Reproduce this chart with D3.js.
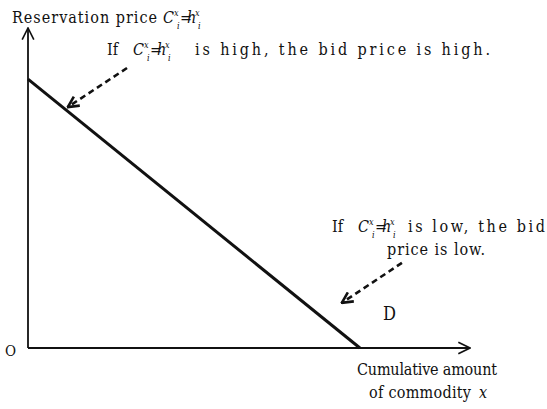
<!DOCTYPE html>
<html>
<head>
<meta charset="utf-8">
<script src="https://cdn.jsdelivr.net/npm/d3@7"></script>
<style>
  body { margin: 0; background: #fff; }
  text { font-family: "DejaVu Serif Condensed", "DejaVu Serif", serif; fill: #111; }
</style>
</head>
<body>
<div id="plot_area"></div>
<script>
// set svg size
const w = 547;
const h = 409;

// demand curve D: [quantity, price]
const demand = [[0, 84], [75.1, 0]];
// dashed pointer arrows: [start, end] in data units
const arrowHigh = [[22.4, 87.5], [9.0, 75.3]];
const arrowLow = [[84.6, 26.6], [71.0, 14.1]];
// axis ends
const xMax = 100;
const yMax = 100;

const xScale = d3.scaleLinear()
                 .domain([0, xMax])
                 .range([28, 470]);

const yScale = d3.scaleLinear()
                 .domain([0, yMax])
                 .range([348, 28]);

const svg = d3.select('#plot_area')
              .append('svg')
              .attr('width', w)
              .attr('height', h);

const defs = svg.append('defs');
function marker(id, size, sw) {
  defs.append('marker')
      .attr('id', id)
      .attr('viewBox', '0 0 12 12')
      .attr('refX', 11).attr('refY', 6)
      .attr('markerWidth', size).attr('markerHeight', size)
      .attr('markerUnits', 'userSpaceOnUse')
      .attr('orient', 'auto')
      .append('path')
      .attr('d', 'M1,1 L11,6 L1,11')
      .attr('fill', 'none')
      .attr('stroke', '#111')
      .attr('stroke-width', sw);
}
marker('axisHead', 14, 1.4);
marker('dashHead', 13, 2.4);

const line = d3.line()
               .x((d) => xScale(d[0]))
               .y((d) => yScale(d[1]));

// axes with arrowheads
svg.append('path')
   .datum([[0, 0], [0, yMax]])
   .attr('d', line)
   .attr('stroke', '#111')
   .attr('stroke-width', 1.8)
   .attr('fill', 'none')
   .attr('marker-end', 'url(#axisHead)');

svg.append('path')
   .datum([[0, 0], [xMax, 0]])
   .attr('d', line)
   .attr('stroke', '#111')
   .attr('stroke-width', 1.8)
   .attr('fill', 'none')
   .attr('marker-end', 'url(#axisHead)');

// demand line
svg.append('path')
   .datum(demand)
   .attr('d', line)
   .attr('stroke', '#111')
   .attr('stroke-width', 3)
   .attr('fill', 'none');

[arrowHigh, arrowLow].forEach(function (a) {
  svg.append('path')
     .datum(a)
     .attr('d', line)
     .attr('stroke', '#111')
     .attr('stroke-width', 2.6)
     .attr('stroke-dasharray', '6,4')
     .attr('fill', 'none')
     .attr('marker-end', 'url(#dashHead)');
});

// C^x_i = h^x_i, each piece placed on its own
function formula(x0, y0) {
  const t = svg.append('text').style('font-size', '16px');
  t.append('tspan').attr('x', x0).attr('y', y0).attr('font-style', 'italic').text('C');
  t.append('tspan').attr('x', x0 + 11).attr('y', y0 - 7).attr('font-size', '9px').attr('font-style', 'italic').text('x');
  t.append('tspan').attr('x', x0 + 14).attr('y', y0 + 6).attr('font-size', '9px').attr('font-style', 'italic').text('i');
  t.append('tspan').attr('x', x0 + 17).attr('y', y0).text('=');
  t.append('tspan').attr('x', x0 + 24).attr('y', y0).attr('font-style', 'italic').text('h');
  t.append('tspan').attr('x', x0 + 32).attr('y', y0 - 7).attr('font-size', '9px').attr('font-style', 'italic').text('x');
  t.append('tspan').attr('x', x0 + 35).attr('y', y0 + 6).attr('font-size', '9px').attr('font-style', 'italic').text('i');
}

function label(txt, x, y, len, size) {
  const t = svg.append('text')
               .attr('x', x)
               .attr('y', y)
               .style('font-size', (size || 16) + 'px')
               .text(txt);
  if (len) t.attr('textLength', len).attr('lengthAdjust', 'spacing');
  return t;
}

label('Reservation price', 12, 23, 145);
formula(163, 23);

label('If', 107, 55);
formula(133, 55);
label('is high,  the bid price is high.', 195, 55, 295);

label('If', 332, 232);
formula(358, 232);
label('is low,  the bid', 408, 232, 137);
label('price is low.', 387, 255, 98);

label('D', 383, 320, null, 18);
label('O', 5, 356, null, 15);

label('Cumulative amount', 357, 375, 140);
label('of commodity', 369, 398, 102);
label('x', 479, 398).style('font-style', 'italic');
</script>
</body>
</html>
